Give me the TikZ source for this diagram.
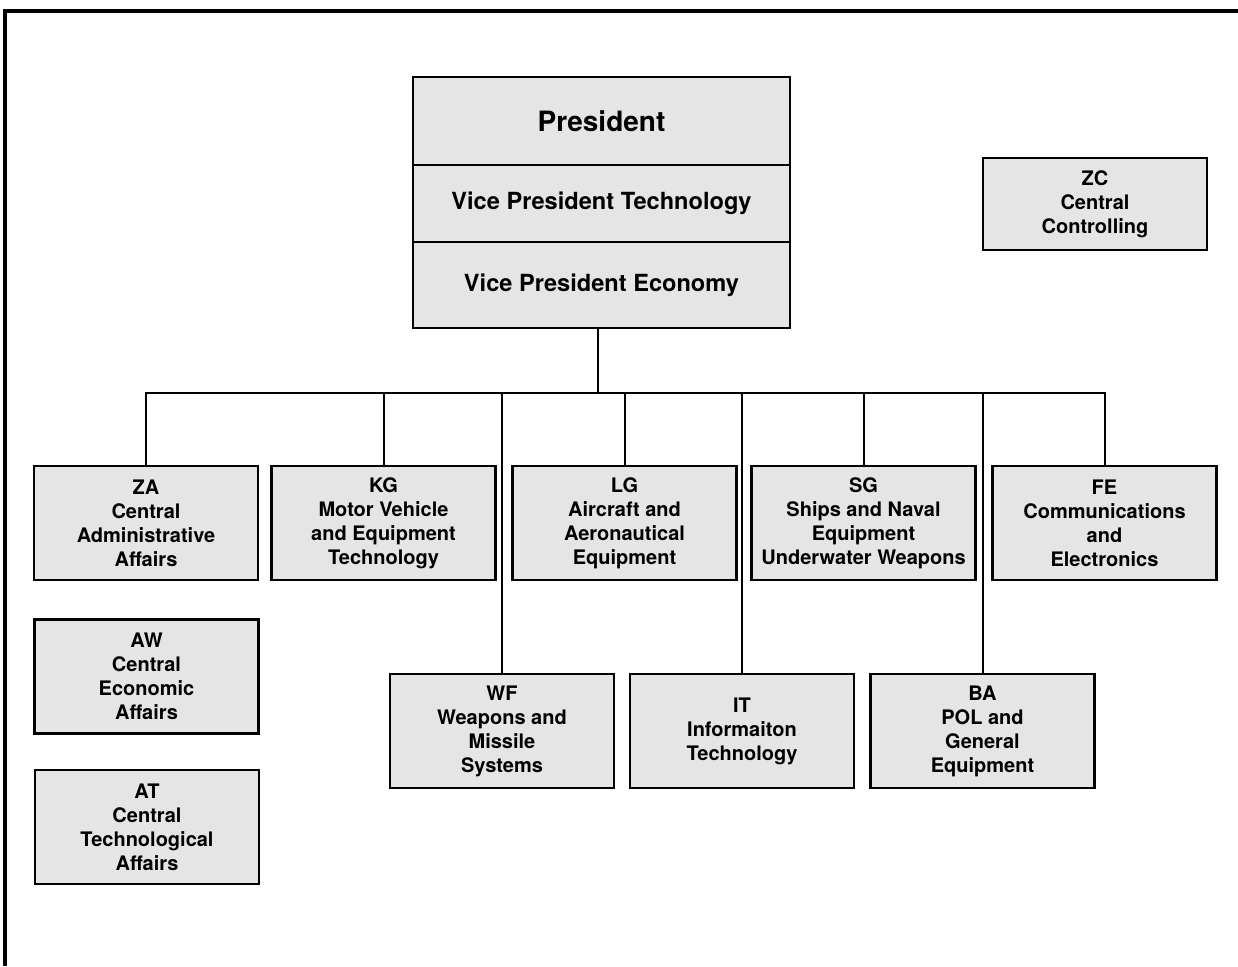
\documentclass[tikz,border=0pt]{standalone}
\usepackage{fontspec}
\setmainfont{TeX Gyre Heros}
\usepackage{tikz}
\usetikzlibrary{positioning,calc}
\tikzset{
  unit/.style={draw, line width=1.3pt, fill=gray!20, align=center,
    font=\bfseries\fontsize{10}{12}\selectfont,
    minimum width=112pt, minimum height=57pt, inner sep=1pt},
  top/.style={draw, line width=1.3pt, fill=gray!20, align=center,
    minimum width=188.5pt, inner sep=0pt},
}

\begin{document}
\begin{tikzpicture}[
  x=0.5pt, y=-0.5pt,
  line width=1pt,
]
\useasboundingbox (0,0) rectangle (1238,966);
\draw[line width=1.6pt] (5,966) -- (5,11) -- (1238,11);

\node[top, minimum height=44pt, font=\bfseries\fontsize{14}{16}\selectfont] (pres) at (601.5,121) {President};
\node[top, minimum height=38.5pt, font=\bfseries\fontsize{11.8}{14}\selectfont] (vpt) at (601.5,203.5) {Vice President Technology};
\node[top, minimum height=43pt, font=\bfseries\fontsize{11.8}{14}\selectfont] (vpe) at (601.5,285) {Vice President Economy};

\node[unit, minimum height=46pt] (zc) at (1095,204) {ZC\\Central\\Controlling};

\node[unit] (za) at (146,523) {ZA\\Central\\Administrative\\Affairs};
\node[unit] (kg) at (383.5,523) {KG\\Motor Vehicle\\and Equipment\\Technology};
\node[unit] (lg) at (624.5,523) {LG\\Aircraft and\\Aeronautical\\Equipment};
\node[unit] (sg) at (863.5,523) {SG\\Ships and Naval\\Equipment\\Underwater Weapons};
\node[unit] (fe) at (1104.5,523) {FE\\Communications\\and\\Electronics};

\node[unit] (wf) at (502,731) {WF\\Weapons and\\Missile\\Systems};
\node[unit] (it) at (742,731) {IT\\Informaiton\\Technology};
\node[unit] (ba) at (982.5,731) {BA\\POL and\\General\\Equipment};

\node[unit] (aw) at (146.5,676.5) {AW\\Central\\Economic\\Affairs};
\node[unit] (at) at (147,827) {AT\\Central\\Technological\\Affairs};

\coordinate (bus) at (598,393);
\draw (vpe.south -| bus) -- (bus);
\draw (za.north) |- (bus) -| (fe.north);
\foreach \u in {kg,lg,sg,wf,it,ba}
  \draw (\u.north) -- (\u.north |- bus);
\end{tikzpicture}
\end{document}
